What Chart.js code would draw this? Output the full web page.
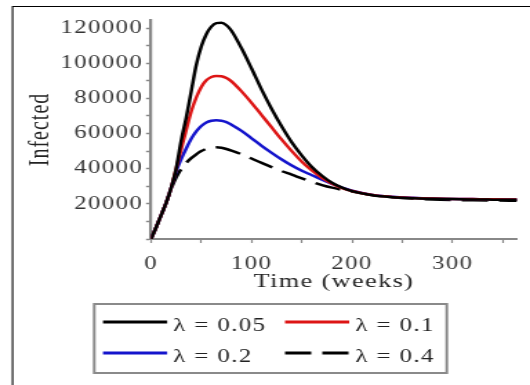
<!DOCTYPE html>
<html>
<head>
<meta charset="utf-8">
<script src="https://cdn.jsdelivr.net/npm/chart.js@4.4.0/dist/chart.umd.min.js"></script>
<style>
  html, body { margin: 0; padding: 0; background: #fff; overflow: hidden; }
  /* drawn narrow, shown wide: glyphs and vertical strokes come out broadened */
  #canvas { display: block; width: 530px; height: 385px; }
</style>
</head>
<body>
<canvas id="canvas" width="384" height="385" style="width:530px;height:385px"></canvas>
<script>
(function() {

    // weeks at which the model output was sampled
    const weeks = [0, 5, 10, 15, 20, 25, 30, 35, 40, 45, 50, 55, 60, 65, 70, 75, 80, 90, 100,
        110, 120, 130, 140, 150, 160, 170, 180, 190, 200, 220, 240, 260, 280, 300, 320, 340, 364]

    const lambdas = ['0.05', '0.1', '0.2', '0.4']

    // infected count for each lambda
    const infected005 = [0, 6500, 13500, 20500, 29000, 40000, 56000, 69000, 84000, 99000, 109500, 116500,
        120800, 122800, 123000, 121600, 118500, 108500, 97000, 85000, 74000, 64000, 55000, 47500, 41000,
        36000, 32000, 29200, 27200, 24900, 23800, 23200, 22900, 22700, 22500, 22400, 22300]
    const infected01 = [0, 6500, 13500, 20500, 29000, 40000, 51000, 62000, 72500, 80500, 86500, 90300,
        92200, 92800, 92600, 91600, 89700, 84000, 77500, 70500, 63500, 56500, 50000, 44000, 39000,
        34800, 31500, 29000, 27300, 25000, 23900, 23300, 23000, 22800, 22700, 22600, 22500]
    const infected02 = [0, 6500, 13500, 20500, 29000, 38500, 45500, 51500, 57000, 61200, 64300, 66300,
        67300, 67600, 67300, 66500, 65000, 61500, 57300, 53000, 49000, 45200, 41800, 38800, 36300,
        33800, 31400, 29200, 27500, 25100, 24000, 23400, 23000, 22800, 22700, 22600, 22500]
    const infected04 = [0, 6500, 13500, 20500, 28500, 35000, 39800, 43300, 46000, 48200, 50000, 51300,
        52000, 52200, 51900, 51200, 50300, 48200, 45800, 43300, 40900, 38600, 36600, 34500, 32500,
        30700, 29200, 28000, 27000, 25000, 23800, 23000, 22500, 22200, 22000, 21900, 21800]

    // tick marks and the ones that carry a label
    const xTicks = [0, 50, 100, 150, 200, 250, 300, 350]
    const xLabels = [0, 100, 200, 300]
    const yTicks = [0, 10000, 20000, 30000, 40000, 50000, 60000, 70000, 80000, 90000, 100000, 110000, 120000]
    const yLabels = [20000, 40000, 60000, 80000, 100000, 120000]

    const serif = 'Liberation Serif'

    function pts(values) {
        return weeks.map((t, i) => ({x: t, y: values[i]}))
    }

    // slight letter spacing on every text drawn in the canvas
    const spacing = {
        id: 'spacing',
        beforeLayout(chart) { chart.ctx.letterSpacing = '1px' },
        beforeDraw(chart) {
            let ctx = chart.ctx
            ctx.letterSpacing = '1px'
            // page frame, top and left edges
            ctx.save()
            ctx.strokeStyle = '#000'
            ctx.lineWidth = 1.1
            ctx.beginPath()
            ctx.moveTo(9.1, chart.height)
            ctx.lineTo(9.1, 6.5)
            ctx.lineTo(chart.width, 6.5)
            ctx.stroke()
            ctx.restore()
        }
    }

    // two column legend in a grey box under the axis
    const boxLegend = {
        id: 'boxLegend',
        afterDraw(chart, args, opts) {
            let ctx = chart.ctx
            ctx.save()
            ctx.strokeStyle = '#8a8a8a'
            ctx.lineWidth = 2
            ctx.strokeRect(opts.left, opts.top, opts.width, opts.height)
            ctx.font = '18px "' + serif + '"'
            ctx.fillStyle = '#222'
            ctx.textBaseline = 'alphabetic'
            chart.data.datasets.forEach((ds, i) => {
                let x = opts.cols[i % 2]
                let y = opts.rows[Math.floor(i / 2)]
                ctx.strokeStyle = ds.borderColor
                ctx.lineWidth = 3
                ctx.setLineDash(ds.borderDash || [])
                ctx.beginPath()
                ctx.moveTo(x, y)
                ctx.lineTo(x + opts.sample, y)
                ctx.stroke()
                ctx.setLineDash([])
                ctx.fillText(ds.label, x + opts.sample + 4.5, y + 9)
            })
            ctx.restore()
        }
    }

    let ctx = document.querySelector('#canvas').getContext('2d')

    new Chart(ctx, {
        type: 'line',
        data: {
            datasets: [
                {label: 'λ = ' + lambdas[0], data: pts(infected005), borderColor: '#000000'},
                {label: 'λ = ' + lambdas[1], data: pts(infected01), borderColor: '#dd1515'},
                {label: 'λ = ' + lambdas[2], data: pts(infected02), borderColor: '#1414cc'},
                {label: 'λ = ' + lambdas[3], data: pts(infected04), borderColor: '#000000', borderDash: [19, 8]}
            ]
        },
        plugins: [spacing, boxLegend],
        options: {
            responsive: false,
            animation: false,
            layout: {padding: {left: 0, right: 9.4, top: 20, bottom: 90}},
            elements: {
                point: {radius: 0},
                line: {borderWidth: 2.5, cubicInterpolationMode: 'monotone', fill: false}
            },
            plugins: {
                legend: {display: false},
                tooltip: {enabled: false},
                boxLegend: {
                    left: 68.3, top: 304, width: 255.4, height: 69,
                    cols: [74.6, 206.5], rows: [322, 353], sample: 46.5
                }
            },
            scales: {
                x: {
                    type: 'linear',
                    min: 0,
                    max: 364,
                    grid: {drawOnChartArea: false, tickLength: 4, tickColor: '#888', tickWidth: 1.2},
                    border: {color: '#888', width: 2},
                    afterBuildTicks: s => { s.ticks = xTicks.map(v => ({value: v})) },
                    ticks: {
                        autoSkip: false,
                        maxRotation: 0,
                        padding: 10,
                        color: '#333',
                        font: {family: serif, size: 18},
                        callback: v => xLabels.includes(v) ? String(v) : ''
                    },
                    title: {
                        display: true,
                        text: 'Time (weeks)',
                        color: '#222',
                        font: {family: serif, size: 19},
                        padding: {top: 0, bottom: 2}
                    },
                    afterFit: s => { s.height = 56 }
                },
                y: {
                    min: 0,
                    max: 124600,
                    grid: {drawOnChartArea: false, tickLength: 3.6, tickColor: '#888', tickWidth: 1.5},
                    border: {color: '#888', width: 2.2},
                    afterBuildTicks: s => { s.ticks = yTicks.map(v => ({value: v})) },
                    ticks: {
                        autoSkip: false,
                        padding: 2,
                        color: '#333',
                        font: {family: serif, size: 18},
                        callback: v => yLabels.includes(v) ? String(v) : ''
                    },
                    title: {
                        display: true,
                        text: 'Infected',
                        color: '#222',
                        font: {family: serif, size: 20},
                        padding: {top: 17.5, bottom: 0}
                    },
                    afterFit: s => { s.width = 109.4 }
                }
            }
        }
    })

}())
</script>
</body>
</html>
